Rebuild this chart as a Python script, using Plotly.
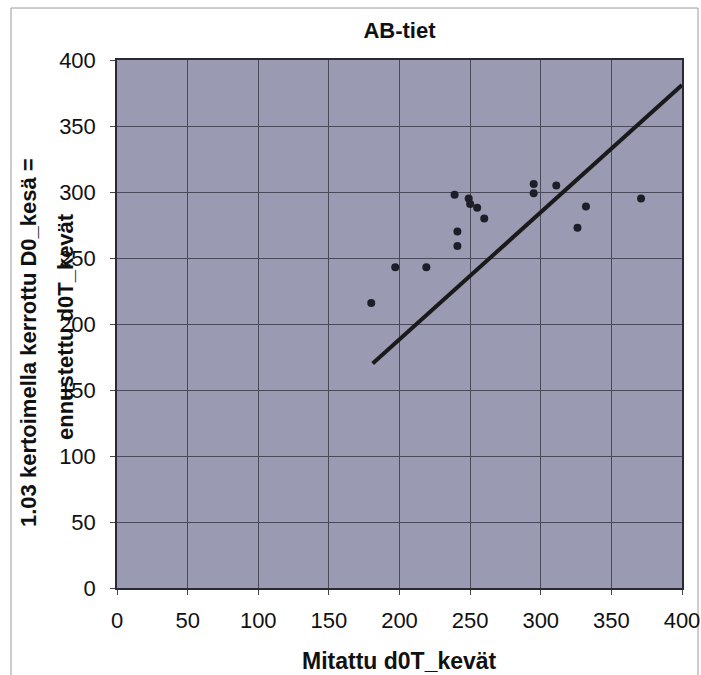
import plotly.graph_objects as go

# Data
meas_x = [180, 197, 219, 239, 241, 241, 249, 250, 255, 260, 295, 295, 311, 326, 332, 371]
pred_y = [216, 243, 243, 298, 270, 259, 295, 291, 288, 280, 306, 299, 305, 273, 289, 295]
line_x = [181, 400]
line_y = [170, 381]
tick_vals = [0, 50, 100, 150, 200, 250, 300, 350, 400]

W, H = 701, 675
L, R, T, B = 117, 19, 60, 87
pw = W - L - R
ph = H - T - B

FONT = "Liberation Sans, Arial, sans-serif"

fig = go.Figure()
fig.add_trace(go.Scatter(x=line_x, y=line_y, mode="lines",
                         line=dict(color="#1a1a1a", width=4), showlegend=False, cliponaxis=True))
fig.add_trace(go.Scatter(x=meas_x, y=pred_y, mode="markers",
                         marker=dict(color="#1e1e28", size=8), showlegend=False))

axis_common = dict(range=[0, 400], tickvals=tick_vals, showgrid=True, gridcolor="#4a4a5a",
                   gridwidth=1, zeroline=False, showline=True, linecolor="#2a2a35", linewidth=1.5,
                   mirror=True, ticks="outside", ticklen=5, tickcolor="#444", automargin=False,
                   tickfont=dict(family=FONT, size=22, color="#111111"), fixedrange=True)

fig.update_layout(
    width=W, height=H,
    margin=dict(l=L, r=R, t=T, b=B, pad=0, autoexpand=False),
    paper_bgcolor="white",
    plot_bgcolor="#9a9ab2",
    font=dict(family=FONT, color="#111111"),
    title=dict(text="<b>AB-tiet</b>", x=(L + pw / 2) / W, xanchor="center",
               y=1 - 30 / H, yanchor="middle", font=dict(size=22, family=FONT), automargin=False),
    xaxis=dict(axis_common, ticklabelstandoff=7, title=dict(text="")),
    yaxis=dict(axis_common, ticklabelstandoff=10, title=dict(text="")),
)

# Axis titles as annotations (the second y line overlaps the tick labels, as in the reference)
fig.add_annotation(text="<b>Mitattu d0T_kevät</b>", xref="paper", yref="paper",
                   x=0.5, y=0, xanchor="center", yanchor="middle",
                   yshift=-(661 - (H - B)), showarrow=False,
                   font=dict(size=23, family=FONT, color="#111111"))
fig.add_annotation(text="<b>1.03 kertoimella kerrottu D0_kesä =</b>", xref="paper", yref="paper",
                   x=0, y=0.5, xanchor="center", yanchor="middle", textangle=-90,
                   xshift=28 - L, yshift=-19, showarrow=False,
                   font=dict(size=22, family=FONT, color="#111111"))
fig.add_annotation(text="<b>ennustettu d0T_kevät</b>", xref="paper", yref="paper",
                   x=0, y=0.5, xanchor="center", yanchor="middle", textangle=-90,
                   xshift=65 - L, yshift=-3, showarrow=False,
                   font=dict(size=22, family=FONT, color="#111111"))

# Outer chart frame
def px_x(p):
    return (p - L) / pw

def px_y(p):
    return (H - B - p) / ph

fig.add_shape(type="rect", xref="paper", yref="paper",
              x0=px_x(11), x1=px_x(698), y0=px_y(690), y1=px_y(8),
              line=dict(color="#9a9a9a", width=1), fillcolor="rgba(0,0,0,0)", layer="below")

fig.write_html("out.html")
